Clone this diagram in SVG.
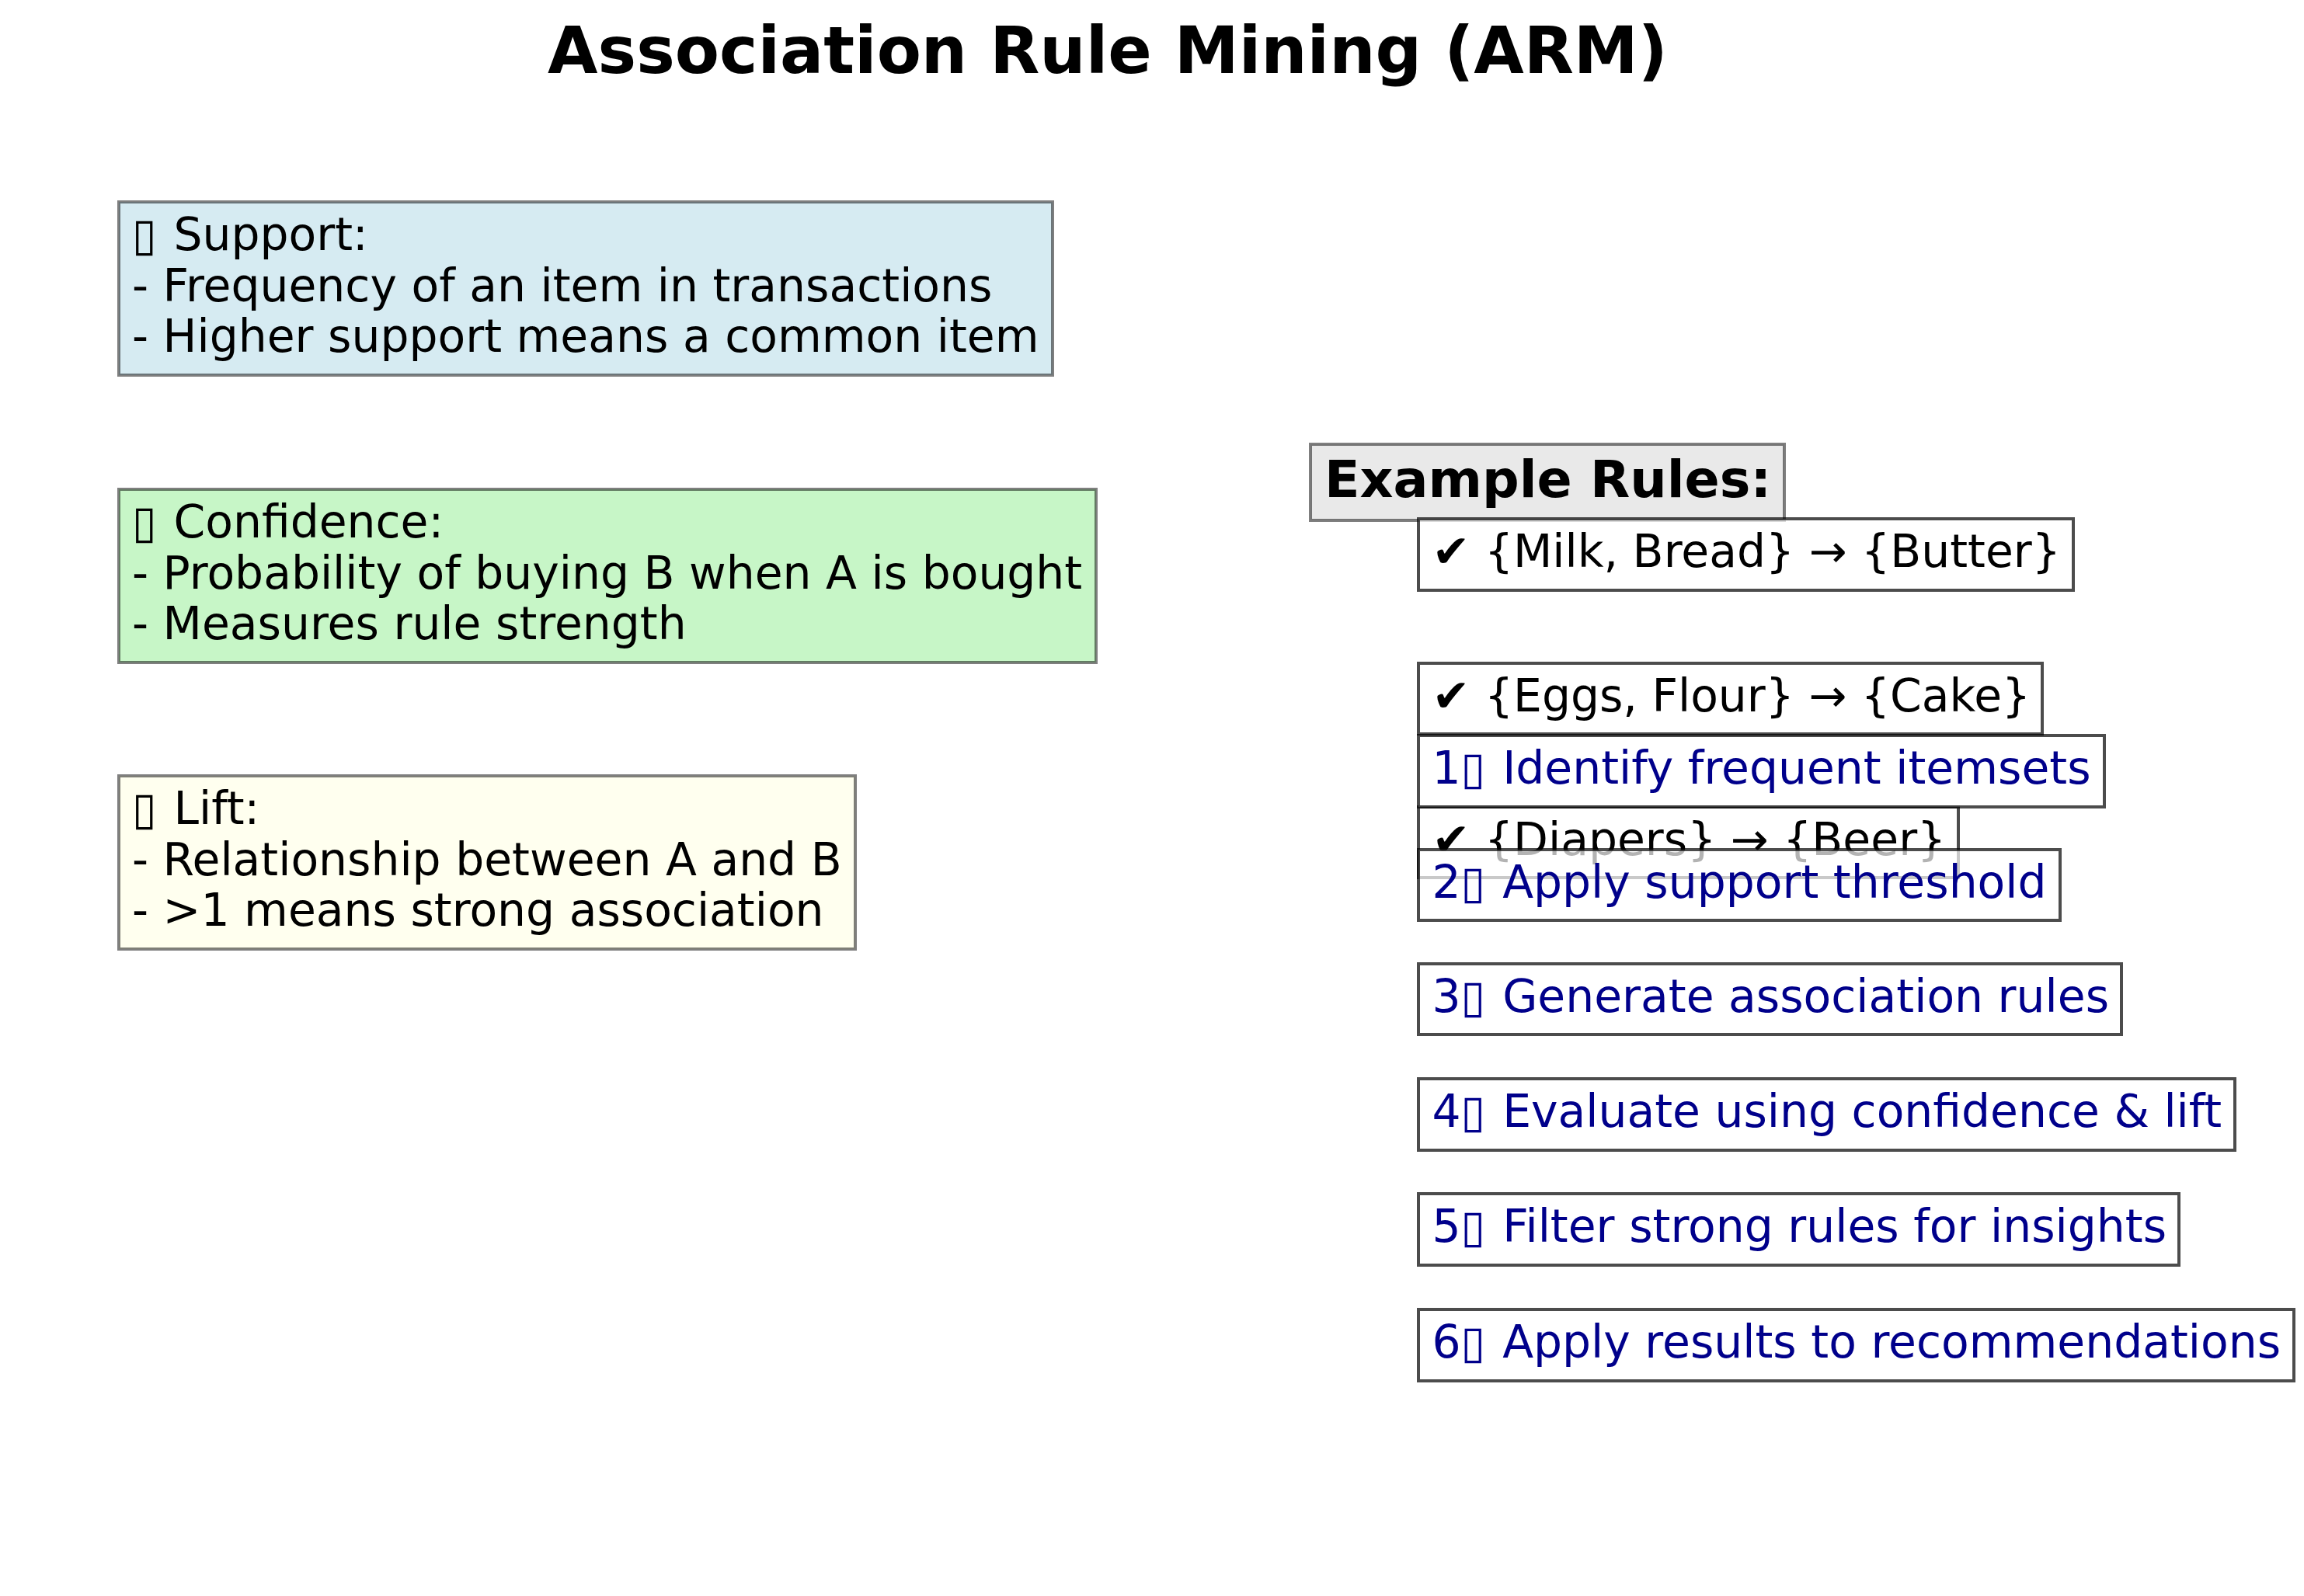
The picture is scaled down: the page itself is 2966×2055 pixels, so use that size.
<svg xmlns="http://www.w3.org/2000/svg" width="2966" height="2055" viewBox="0 0 2966 2055">
<style>
text{font-family:"DejaVu Sans","Liberation Sans",sans-serif;}
.title{font-size:83.33px;font-weight:bold;fill:#000;}
.t{font-size:58.33px;fill:#000;}
.step{font-size:58.33px;fill:#00008B;}
.hdr{font-size:66.67px;font-weight:bold;fill:#000;}
.info{stroke:#000;stroke-opacity:0.5;stroke-width:4;}
.rb{fill:#fff;fill-opacity:0.7;stroke:#000;stroke-opacity:0.7;stroke-width:4;}
</style>
<rect width="2966" height="2055" fill="#fff"/>
<text class="title" x="1426" y="94" text-anchor="middle">Association Rule Mining (ARM)</text>

<g id="support">
<rect class="info" x="153" y="260" width="1202" height="223" fill="#ADD8E6" fill-opacity="0.5"/>
<text class="t" x="170" y="322">▯<tspan x="205"> Support:</tspan></text>
<text class="t" x="170" y="388">- Frequency of an item in transactions</text>
<text class="t" x="170" y="453">- Higher support means a common item</text>
</g>
<g id="confidence">
<rect class="info" x="153" y="630" width="1258" height="223" fill="#90EE90" fill-opacity="0.5"/>
<text class="t" x="170" y="692">▯<tspan x="205"> Confidence:</tspan></text>
<text class="t" x="170" y="758">- Probability of buying B when A is bought</text>
<text class="t" x="170" y="823">- Measures rule strength</text>
</g>
<g id="lift">
<rect class="info" x="153" y="999" width="948" height="223" fill="#FFFFE0" fill-opacity="0.5"/>
<text class="t" x="170" y="1061">▯<tspan x="205"> Lift:</tspan></text>
<text class="t" x="170" y="1127">- Relationship between A and B</text>
<text class="t" x="170" y="1192">- &gt;1 means strong association</text>
</g>

<g id="example-rules">
<rect class="info" x="1687" y="572" width="610" height="98" fill="#D3D3D3" fill-opacity="0.5"/>
<text class="hdr" x="1705" y="640">Example Rules:</text>
</g>

<g id="rule1">
<rect class="rb" x="1826" y="668" width="843" height="92"/>
<text class="t" x="1843.5" y="730">✔ {Milk, Bread} → {Butter}</text>
</g>
<g id="rule2">
<rect class="rb" x="1826" y="854" width="803" height="91"/>
<text class="t" x="1843.5" y="916">✔ {Eggs, Flour} → {Cake}</text>
</g>
<g id="rule3">
<rect class="rb" x="1826" y="1039" width="695" height="91"/>
<text class="t" x="1843.5" y="1101">✔ {Diapers} → {Beer}</text>
</g>

<g id="step1">
<rect class="rb" x="1826" y="947" width="883" height="92"/>
<text class="step" x="1843.5" y="1009">1<tspan x="1880.6">▯</tspan><tspan x="1915.6"> Identify frequent itemsets</tspan></text>
</g>
<g id="step2">
<rect class="rb" x="1826" y="1094" width="826" height="91"/>
<text class="step" x="1843.5" y="1156">2<tspan x="1880.6">▯</tspan><tspan x="1915.6"> Apply support threshold</tspan></text>
</g>
<g id="step3">
<rect class="rb" x="1826" y="1241" width="905" height="91"/>
<text class="step" x="1843.5" y="1303">3<tspan x="1880.6">▯</tspan><tspan x="1915.6"> Generate association rules</tspan></text>
</g>
<g id="step4">
<rect class="rb" x="1826" y="1389" width="1051" height="92"/>
<text class="step" x="1843.5" y="1451">4<tspan x="1880.6">▯</tspan><tspan x="1915.6"> Evaluate using confidence &amp; lift</tspan></text>
</g>
<g id="step5">
<rect class="rb" x="1826" y="1537" width="979" height="92"/>
<text class="step" x="1843.5" y="1599">5<tspan x="1880.6">▯</tspan><tspan x="1915.6"> Filter strong rules for insights</tspan></text>
</g>
<g id="step6">
<rect class="rb" x="1826" y="1686" width="1127" height="92"/>
<text class="step" x="1843.5" y="1748">6<tspan x="1880.6">▯</tspan><tspan x="1915.6"> Apply results to recommendations</tspan></text>
</g>
<g id="connectors"></g>
</svg>
